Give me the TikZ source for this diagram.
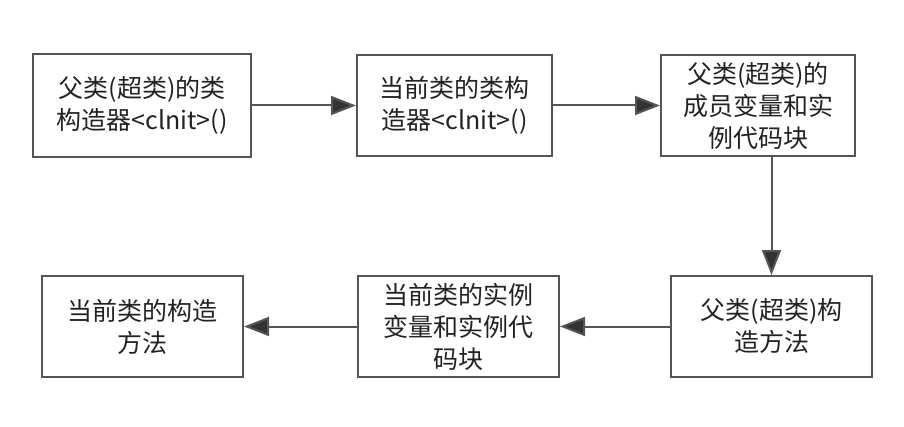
\documentclass[tikz,border=0pt]{standalone}
\usepackage{fontspec}
\setmainfont{Noto Sans CJK SC}
\usetikzlibrary{arrows.meta}
\definecolor{boxgray}{HTML}{555555}
\definecolor{txt}{HTML}{222222}
\definecolor{headgray}{HTML}{333333}

\begin{document}
\begin{tikzpicture}[x=1pt,y=1pt,
  box/.style={draw=boxgray,line width=2pt,minimum width=201pt,minimum height=101pt,
    align=center,inner sep=0pt,text=txt,font=\fontsize{25}{32}\selectfont},
  arr/.style={draw=boxgray,line width=2pt,
    -{Triangle[length=25pt,width=19pt,fill=headgray]}}]

\useasboundingbox (0,0) rectangle (904,426);

% top row
\node[box,minimum width=218pt,minimum height=103pt] (superclinit) at (142,320.5)
  {父类(超类)的类\\构造器<clnit>()};
\node[box,minimum width=195pt] (clinit) at (454.5,320.5)
  {当前类的类构\\造器<clnit>()};
\node[box,minimum width=194pt] (superfields) at (758,320.5)
  {父类(超类)的\\成员变量和实\\例代码块};

% bottom row
\node[box] (superctor) at (771.5,99.5) {父类(超类)构\\造方法};
\node[box] (fields) at (458.5,99.5) {当前类的实例\\变量和实例代\\码块};
\node[box] (ctor) at (142.5,99.5) {当前类的构造\\方法};

\draw[arr] (superclinit) -- (clinit);
\draw[arr] (clinit) -- (superfields);
\draw[arr] (superfields.south -| superctor) -- (superctor);
\draw[arr] (superctor) -- (fields);
\draw[arr] (fields) -- (ctor);

\end{tikzpicture}
\end{document}
